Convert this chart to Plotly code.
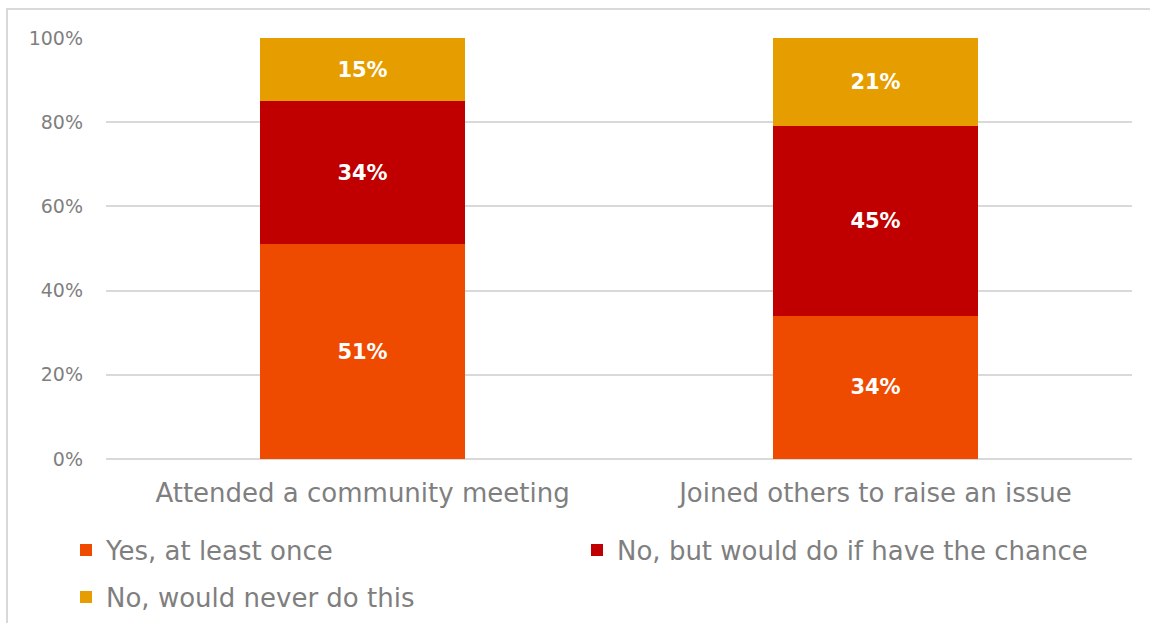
import plotly.graph_objects as go

categories = ["Attended a community meeting", "Joined others to raise an issue"]
series_names = ["Yes, at least once", "No, but would do if have the chance", "No, would never do this"]
yes_once = [51, 34]
would_if_chance = [34, 45]
never = [15, 21]
colors = ["#EE4B00", "#C00000", "#E69D00"]
y_ticks = [0, 20, 40, 60, 80, 100]
y_tick_labels = [f"{v}%" for v in y_ticks]

FONT = "DejaVu Sans, sans-serif"
W, H = 1150, 623
legend_ids = ["legend", "legend", "legend2"]

fig = go.Figure()
for name, vals, col, lg in zip(series_names, [yes_once, would_if_chance, never], colors, legend_ids):
    fig.add_trace(go.Bar(
        x=categories, y=vals, name=name, legend=lg,
        marker=dict(color=col, line=dict(width=0)),
        text=[f"{v}%" for v in vals], texttemplate="<b>%{text}</b>",
        textposition="inside", insidetextanchor="middle",
        textfont=dict(color="white", size=21, family=FONT),
    ))

legend_common = dict(
    orientation="h", xanchor="left", yanchor="middle",
    xref="container", yref="container",
    entrywidth=466, traceorder="normal",
    font=dict(size=26, color="#7F7F7F", family=FONT),
    itemwidth=30, bgcolor="rgba(0,0,0,0)",
)

fig.update_layout(
    barmode="stack", bargap=0.6,
    width=W, height=H,
    margin=dict(l=106, r=18, t=38, b=164, autoexpand=False),
    paper_bgcolor="white", plot_bgcolor="white",
    font=dict(family=FONT, color="#7F7F7F"),
    legend=dict(x=66 / W, y=1 - 550 / H, **legend_common),
    legend2=dict(x=66 / W, y=1 - 597 / H, **legend_common),
    showlegend=True,
    uniformtext=dict(mode="show", minsize=10),
)
fig.update_yaxes(
    range=[0, 100], tickvals=y_ticks, ticktext=y_tick_labels,
    showgrid=True, gridcolor="#D9D9D9", gridwidth=2,
    zeroline=True, zerolinecolor="#D9D9D9", zerolinewidth=2,
    tickfont=dict(size=19, color="#7F7F7F"), ticklabelstandoff=22,
    showline=False,
)
fig.update_xaxes(
    tickfont=dict(size=26, color="#7F7F7F"), ticklabelstandoff=16,
    showline=False, showgrid=False,
)

# light frame around the chart container
fig.add_shape(type="rect", xref="paper", yref="paper",
              x0=-0.0965, x1=1.06, y0=-0.42, y1=1.069,
              line=dict(color="#D9D9D9", width=2), fillcolor="rgba(0,0,0,0)",
              layer="below")

fig.write_html("out.html")
